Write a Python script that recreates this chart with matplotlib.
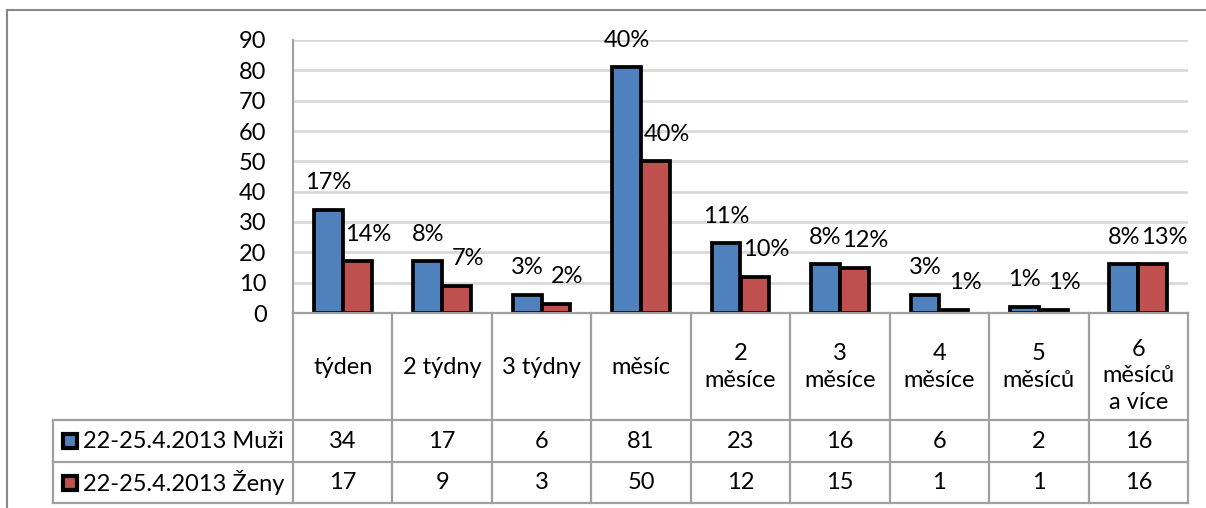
import matplotlib
matplotlib.use("Agg")
import matplotlib.pyplot as plt
from matplotlib.lines import Line2D
from matplotlib.patches import Rectangle

categories = ["týden", "2 týdny", "3 týdny", "měsíc", "2\nměsíce", "3\nměsíce",
              "4\nměsíce", "5\nměsíců", "6\nměsíců\na více"]
series_names = ["22-25.4.2013 Muži", "22-25.4.2013 Ženy"]
muzi = [34, 17, 6, 81, 23, 16, 6, 2, 16]
zeny = [17, 9, 3, 50, 12, 15, 1, 1, 16]
muzi_pct = ["17%", "8%", "3%", "40%", "11%", "8%", "3%", "1%", "8%"]
zeny_pct = ["14%", "7%", "2%", "40%", "10%", "12%", "1%", "1%", "13%"]
yticks = [0, 10, 20, 30, 40, 50, 60, 70, 80, 90]

BLUE = "#4F81BD"
RED = "#C0504D"
GRID = "#D9D9D9"
BORDER = "#A0A0A0"
FONT = "Lato"
FS = 17

W, H = 1206, 508
fig = plt.figure(figsize=(W / 100, H / 100), dpi=100)
plt.rcParams['font.family'] = [FONT, 'DejaVu Sans']

def fx(x):
    return x / W

def fy(y):
    return 1 - y / H

# plot area
L, R, T, B = 293, 1188, 40, 313
ax = fig.add_axes([fx(L), fy(B), fx(R) - fx(L), fy(T) - fy(B)])
n = len(categories)
xs = list(range(n))
w = 0.29
ax.bar([x - w / 2 for x in xs], muzi, width=w, color=BLUE, edgecolor="black", linewidth=2.7, zorder=3)
ax.bar([x + w / 2 for x in xs], zeny, width=w, color=RED, edgecolor="black", linewidth=2.7, zorder=3)
ax.set_xlim(-0.5, n - 0.5)
ax.set_ylim(0, 90)
ax.set_yticks(yticks)
ax.set_yticklabels([str(t) for t in yticks], fontsize=FS)
ax.tick_params(axis="y", length=0, pad=19)
ax.set_xticks([])
for s in ["top", "right", "bottom"]:
    ax.spines[s].set_visible(False)
ax.spines["left"].set_color(BORDER)
ax.spines["left"].set_linewidth(1.5)
ax.yaxis.grid(True, color=GRID, linewidth=2)
ax.set_axisbelow(True)

for x, v, t in zip(xs, muzi, muzi_pct):
    ax.annotate(t, (x - w / 2, v), xytext=(0, 19.5), textcoords="offset points",
                ha="center", va="center", fontsize=FS, annotation_clip=False)
for x, v, t in zip(xs, zeny, zeny_pct):
    ax.annotate(t, (x + w / 2, v), xytext=(8, 19.5), textcoords="offset points",
                ha="center", va="center", fontsize=FS, annotation_clip=False)

# data table
colw = (R - L) / n
row1, row2, row_bot = 420, 462, 503
leg_left = 53

def hline(x0, x1, y):
    fig.add_artist(Line2D([fx(x0), fx(x1)], [fy(y), fy(y)], color=BORDER, linewidth=1.6))

def vline(x, y0, y1):
    fig.add_artist(Line2D([fx(x), fx(x)], [fy(y0), fy(y1)], color=BORDER, linewidth=1.6))

hline(L, R, B)
hline(leg_left, R, row1)
hline(leg_left, R, row2)
hline(leg_left, R, row_bot)
for i in range(n + 1):
    vline(L + i * colw, B, row_bot)
vline(leg_left, row1, row_bot)

for i, c in enumerate(categories):
    nl = c.count("\n") + 1
    cy = 367 if nl < 3 else 376
    fig.text(fx(L + (i + 0.5) * colw), fy(cy), c, ha="center", va="center",
             fontsize=FS, linespacing=1.3)

for r, (vals, col, name) in enumerate([(muzi, BLUE, series_names[0]), (zeny, RED, series_names[1])]):
    cy = (row1 + row2) / 2 if r == 0 else (row2 + row_bot) / 2
    for i, v in enumerate(vals):
        fig.text(fx(L + (i + 0.5) * colw), fy(cy), str(v), ha="center", va="center", fontsize=FS)
    fig.add_artist(Rectangle((fx(63), fy(cy + 7)), fx(14), 14 / H, facecolor=col,
                             edgecolor="black", linewidth=3, transform=fig.transFigure))
    fig.text(fx(83), fy(cy), name, ha="left", va="center", fontsize=FS)

# outer chart border
fig.add_artist(Line2D([fx(7), fx(W + 5)], [fy(10), fy(10)], color="#888888", linewidth=1.5))
fig.add_artist(Line2D([fx(7), fx(7)], [fy(10), fy(H + 5)], color="#888888", linewidth=1.5))

fig.savefig("out.png", dpi=100, facecolor="white")
